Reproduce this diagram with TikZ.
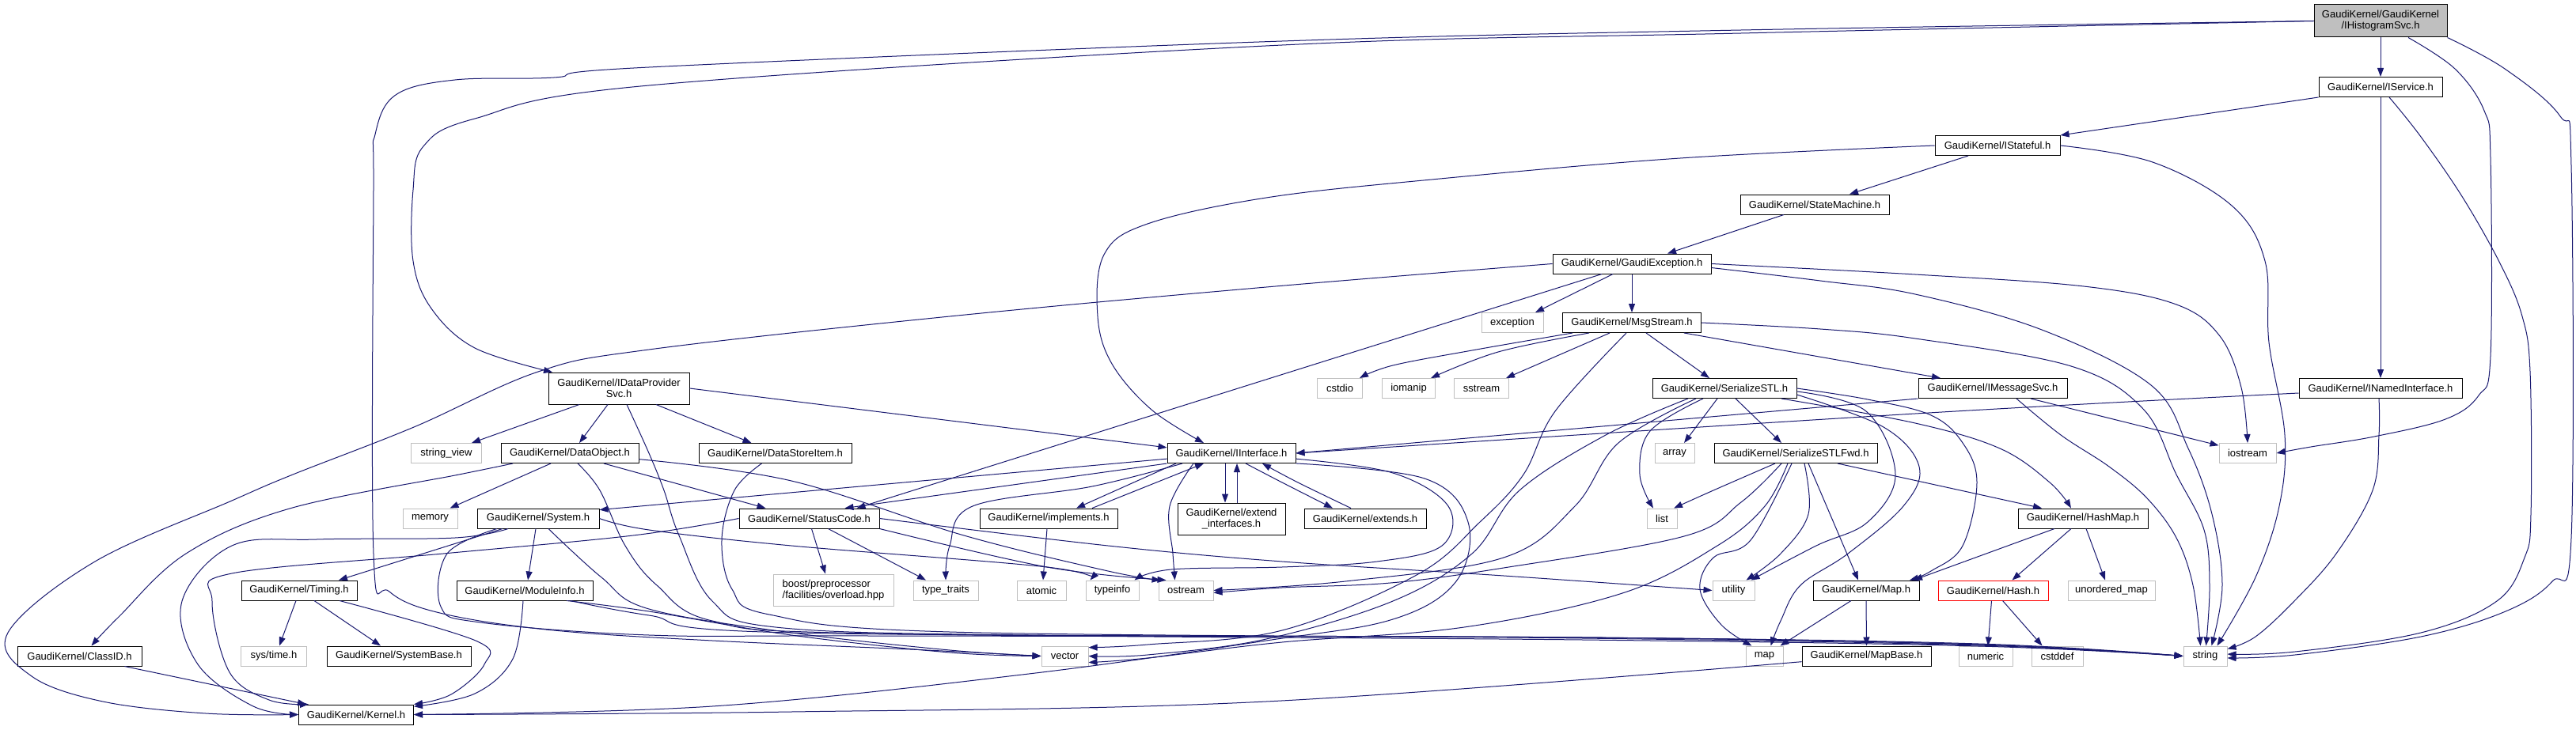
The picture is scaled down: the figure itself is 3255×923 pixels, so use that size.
\documentclass[tikz,border=0pt]{standalone}
\usepackage{fontspec}
\newfontfamily\dxfont{Liberation Sans}
\usetikzlibrary{arrows.meta}
\definecolor{edgec}{HTML}{191970}
\definecolor{extgray}{HTML}{BFBFBF}
\definecolor{hdrfill}{HTML}{BFBFBF}
\definecolor{trunc}{HTML}{FF0000}
\begin{document}
\begin{tikzpicture}[x=1pt,y=-1pt,
 hb/.style={draw=black, fill=white, line width=1pt, inner sep=0pt, minimum height=25pt, font=\dxfont\fontsize{13}{14}\selectfont, align=center},
 xb/.style={hb, draw=extgray},
 e/.style={draw=edgec, line width=1pt, -{Triangle[length=11pt,width=8pt]}},
 sm/.style={smooth, tension=0.6}]
\fill[white] (0,0) rectangle (3255,923);
\useasboundingbox (0,0) rectangle (3255,923);
% ---------- nodes
\node[hb, fill=hdrfill, minimum width=168pt, minimum height=41pt] (ihist) at (3008,26.5) {GaudiKernel/GaudiKernel\\/IHistogramSvc.h};
\node[hb, minimum width=156pt] (isvc) at (3008,110) {GaudiKernel/IService.h};
\node[hb, minimum width=158pt] (istate) at (2524,184) {GaudiKernel/IStateful.h};
\node[hb, minimum width=188pt] (smach) at (2293,258.5) {GaudiKernel/StateMachine.h};
\node[hb, minimum width=200pt] (gexc) at (2062,333.5) {GaudiKernel/GaudiException.h};
\node[xb, minimum width=78pt] (exc) at (1911,408) {exception};
\node[hb, minimum width=175pt] (msg) at (2062,408) {GaudiKernel/MsgStream.h};
\node[hb, minimum width=178pt, minimum height=40pt] (idp) at (782,491) {GaudiKernel/IDataProvider\\Svc.h};
\node[xb, minimum width=57pt] (cstdio) at (1693,491) {cstdio};
\node[xb, minimum width=67pt] (iomanip) at (1780,491) {iomanip};
\node[xb, minimum width=69pt] (sstream) at (1872,491) {sstream};
\node[hb, minimum width=182pt] (sstl) at (2179,491) {GaudiKernel/SerializeSTL.h};
\node[hb, minimum width=188pt] (imsg) at (2518,491) {GaudiKernel/IMessageSvc.h};
\node[hb, minimum width=206pt] (inamed) at (3008,491) {GaudiKernel/INamedInterface.h};
\node[xb, minimum width=89pt] (strview) at (564,573) {string\_view};
\node[hb, minimum width=174pt] (dobj) at (720,573) {GaudiKernel/DataObject.h};
\node[hb, minimum width=193pt] (dsi) at (979.5,573) {GaudiKernel/DataStoreItem.h};
\node[hb, minimum width=162pt] (iint) at (1556,573) {GaudiKernel/IInterface.h};
\node[xb, minimum width=50pt] (array) at (2116,573) {array};
\node[hb, minimum width=206pt] (sstlf) at (2269,573) {GaudiKernel/SerializeSTLFwd.h};
\node[xb, minimum width=72pt] (iostream) at (2840,573) {iostream};
\node[xb, minimum width=69pt] (memory) at (543.5,655.5) {memory};
\node[hb, minimum width=154pt] (system) at (680,655.5) {GaudiKernel/System.h};
\node[hb, minimum width=177pt] (sc) at (1022.5,655.5) {GaudiKernel/StatusCode.h};
\node[hb, minimum width=174pt] (impl) at (1325,655.5) {GaudiKernel/implements.h};
\node[hb, minimum width=136pt, minimum height=40pt] (extif) at (1556,656) {GaudiKernel/extend\\\_interfaces.h};
\node[hb, minimum width=154pt] (extends) at (1725,655.5) {GaudiKernel/extends.h};
\node[xb, minimum width=38pt] (list) at (2100,655.5) {list};
\node[hb, minimum width=164pt] (hashmap) at (2632,655.5) {GaudiKernel/HashMap.h};
\node[hb, minimum width=146pt] (timing) at (378,746.5) {GaudiKernel/Timing.h};
\node[hb, minimum width=172pt] (modinfo) at (663,746.5) {GaudiKernel/ModuleInfo.h};
\node[xb, minimum width=152pt, minimum height=40pt, align=left] (boost) at (1053,746) {boost/preprocessor\\/facilities/overload.hpp};
\node[xb, minimum width=82pt] (ttraits) at (1195,746.5) {type\_traits};
\node[xb, minimum width=62pt] (atomic) at (1316,746.5) {atomic};
\node[xb, minimum width=67pt] (typeinfo) at (1405.5,746.5) {typeinfo};
\node[xb, minimum width=69pt] (ostream) at (1498.5,746.5) {ostream};
\node[xb, minimum width=53pt] (utility) at (2190.5,746.5) {utility};
\node[hb, minimum width=134pt] (maph) at (2358,746.5) {GaudiKernel/Map.h};
\node[hb, draw=trunc, minimum width=139pt] (hash) at (2518.5,746.5) {GaudiKernel/Hash.h};
\node[xb, minimum width=110pt] (umap) at (2668,746.5) {unordered\_map};
\node[hb, minimum width=157pt] (classid) at (100.5,829.5) {GaudiKernel/ClassID.h};
\node[xb, minimum width=83pt] (systime) at (346,829.5) {sys/time.h};
\node[hb, minimum width=182pt] (sysbase) at (504,829.5) {GaudiKernel/SystemBase.h};
\node[xb, minimum width=59pt] (vector) at (1345.5,829.5) {vector};
\node[xb, minimum width=47pt] (mapstd) at (2229.5,829.5) {map};
\node[hb, minimum width=163pt] (mapbase) at (2358.5,829.5) {GaudiKernel/MapBase.h};
\node[xb, minimum width=68pt] (numeric) at (2509,829.5) {numeric};
\node[xb, minimum width=65pt] (cstddef) at (2599.5,829.5) {cstddef};
\node[xb, minimum width=55pt] (string) at (2786.5,829.5) {string};
\node[hb, minimum width=145pt] (kernel) at (450,903.5) {GaudiKernel/Kernel.h};
% ---------- edges: IHistogramSvc
\draw[e] (ihist.south) -- (isvc.north);
\draw[e] plot[sm] coordinates {(ihist.west) (2200,42) (1620,57) (820,108) (600,150) (535,185) (522,240) (522,330) (545,390) (600,440) ([xshift=-84]idp.north)};
\draw[e] plot[sm] coordinates {(ihist.west) (2200,38) (1620,52) (820,85) (700,98) (575,101) (500,120) (474,170) (472,240) (472,700) (492,748) (560,776) (700,797) (900,810) (1150,821) (vector.west)};
\draw[e] plot[sm] coordinates {([xshift=35]ihist.south) (3102,87) (3139,140) (3147,200) (3147,450) (3132,500) (3090,530) (3000,552) (2920,565) (iostream.east)};
\draw[e] plot[sm] coordinates {(ihist.south east) (3165,87) (3235,147) (3249,210) (3249,680) (3225,735) (3166,773) (3059,805) (2900,828) (string.-5)};
% IService
\draw[e] (isvc.south west) -- (istate.north east);
\draw[e] (isvc.south) -- (inamed.north);
\draw[e] plot[sm] coordinates {([xshift=11]isvc.south) (3059,173) (3112,250) (3160,335) (3187,400) (3197,470) (3198,650) (3190,705) (3155,760) (3059,800) (2900,824) (string.5)};
% IStateful
\draw[e] ([xshift=-37]istate.south) -- ([xshift=44]smach.north);
\draw[e] plot[sm] coordinates {(istate.west) (2123,200) (1809,227) (1600,250) (1450,283) (1395,322) (1387,400) (1405,460) (1455,518) ([xshift=-35]iint.north)};
\draw[e] plot[sm] coordinates {(istate.east) (2720,205) (2820,260) (2862,330) (2867,433) (2887,550) (2880,640) (2850,730) ([xshift=15]string.north)};
% StateMachine
\draw[e] ([xshift=-39]smach.south) -- ([xshift=45]gexc.north);
% GaudiException
\draw[e] plot[sm] coordinates {(gexc.west) (1600,363) (1200,400) (820,442) (680,470) (523,540) (370,600) (293,633) (120,710) (10,800) (40,855) (130,887) (260,902) (kernel.west)};
\draw[e] ([xshift=-24]gexc.south) -- ([xshift=29]exc.north);
\draw[e] (gexc.south) -- (msg.north);
\draw[e] ([xshift=-38]gexc.south) -- ([xshift=60]sc.north);
\draw[e] plot[sm] coordinates {(gexc.east) (2420,347) (2633,362) (2750,385) (2805,425) (2832,490) (iostream.north)};
\draw[e] plot[sm] coordinates {([yshift=-5]gexc.east) (2300,355) (2420,372) (2580,417) (2718,487) (2765,567) (2795,650) (2808,740) ([xshift=8]string.north)};
% MsgStream
\draw[e] plot[sm] coordinates {([xshift=-75]msg.south) (1860,443) (1760,462) ([xshift=25]cstdio.north)};
\draw[e] plot[sm] coordinates {([xshift=-54]msg.south) (1893,445) ([xshift=28]iomanip.north)};
\draw[e] ([xshift=-28]msg.south) -- ([xshift=31]sstream.north);
\draw[e] ([xshift=18]msg.south) -- ([xshift=-19]sstl.north);
\draw[e] ([xshift=66]msg.south) -- ([xshift=-66]imsg.north);
\draw[e] plot[sm] coordinates {(msg.east) (2300,416) (2420,428) (2617,463) (2708,517) (2750,600) (2785,670) (2792,740) ([xshift=1]string.north)};
\draw[e] plot[sm] coordinates {([xshift=-7]msg.south) (1965,520) (1925,600) (1870,660) (1790,727) (1620,797) (1450,815) (vector.20)};
% SerializeSTL
\draw[e] ([xshift=-9]sstl.south) -- ([xshift=12]array.north);
\draw[e] ([xshift=14]sstl.south) -- ([xshift=-18]sstlf.north);
\draw[e] plot[sm] coordinates {([xshift=-27]sstl.south) (2085,545) (2072,600) ([xshift=-11]list.north)};
\draw[e] plot[sm] coordinates {([xshift=72]sstl.south) (2420,535) (2527,567) (2590,610) ([xshift=-15]hashmap.north)};
\draw[e] plot[sm] coordinates {(sstl.east) (2360,505) (2440,525) (2480,560) (2498,610) (2480,690) (2440,722) ([xshift=55]maph.north)};
\draw[e] plot[sm] coordinates {([yshift=-4]sstl.east) (2358,520) (2395,600) (2360,660) (2295,690) ([xshift=22]utility.north)};
\draw[e] plot[sm] coordinates {([yshift=-8]sstl.east) (2380,540) (2425,590) (2405,640) (2335,700) (2275,740) (2250,785) ([xshift=8]mapstd.north)};
\draw[e] plot[sm] coordinates {([xshift=-46]sstl.south) (2029,550) (1920,620) (1860,700) (1760,760) (1600,808) (1450,828) (vector.east)};
\draw[e] plot[sm] coordinates {([xshift=-36]sstl.south) (2045,560) (1990,640) (1900,705) (1700,735) (ostream.east)};
% SerializeSTLFwd
\draw[e] plot[sm] coordinates {([xshift=-26]sstlf.south) (2165,620) ([xshift=15]list.north)};
\draw[e] plot[sm] coordinates {([xshift=-18]sstlf.south) (2200,635) (2128,678) (1900,718) (1757,737) (1620,743) ([yshift=-3]ostream.east)};
\draw[e] plot[sm] coordinates {([xshift=-10]sstlf.south) (2230,640) (2170,690) (2050,750) (1850,793) (1620,812) (1450,832) (vector.-15)};
\draw[e] plot[sm] coordinates {([xshift=-5]sstlf.south) (2212,683) (2165,705) (2148,745) (2175,790) ([xshift=-16]mapstd.north)};
\draw[e] plot[sm] coordinates {([xshift=11]sstlf.south) (2285,650) (2250,700) ([xshift=16]utility.north)};
\draw[e] ([xshift=16]sstlf.south) -- ([xshift=-10]maph.north);
\draw[e] ([xshift=53]sstlf.south) -- ([xshift=-52]hashmap.north);
% IMessageSvc
\draw[e] (imsg.south west) -- (iint.east);
\draw[e] plot[sm] coordinates {([xshift=30]imsg.south) (2604,550) (2665,590) (2713,630) (2750,680) (2771,740) ([xshift=-6]string.north)};
\draw[e] ([xshift=48]imsg.south) -- (iostream.165);
% INamedInterface
\draw[e] plot[sm] coordinates {([yshift=-6]inamed.west) (2420,523) (iint.east)};
\draw[e] plot[sm] coordinates {([xshift=-2]inamed.south) (3006,550) (2998,620) (2952,700) (2899,760) (2850,805) (string.18)};
% IDataProviderSvc
\draw[e] ([xshift=-50]idp.south) -- ([xshift=32]strview.north);
\draw[e] ([xshift=-14]idp.south) -- ([xshift=12]dobj.north);
\draw[e] ([xshift=47]idp.south) -- ([xshift=-30]dsi.north);
\draw[e] (idp.east) -- (iint.175);
\draw[e] plot[sm] coordinates {([xshift=10]idp.south) (820,573) (839,620) (858,677) (900,760) (980,793) (1300,803) (2000,806) (2500,815) (string.west)};
% DataObject
\draw[e] plot[sm] coordinates {([xshift=-72]dobj.south) (580,600) (366,643) (235,700) (150,780) ([xshift=15]classid.north)};
\draw[e] ([xshift=-24]dobj.south) -- ([xshift=25]memory.north);
\draw[e] ([xshift=43]dobj.south) -- ([xshift=-55]sc.north);
\draw[e] plot[sm] coordinates {(dobj.-5) (1000,608) (1218,677) (1400,722) ([xshift=-32]ostream.north)};
\draw[e] plot[sm] coordinates {([xshift=10]dobj.south) (758,620) (790,690) (830,740) (900,785) (1100,801) (2000,809) (2500,817) (string.west)};
% DataStoreItem
\draw[e] plot[sm] coordinates {([xshift=-17]dsi.south) (928,620) (912,683) (925,745) (972,777) (1200,799) (2000,807) (2500,816) (string.west)};
% IInterface
\draw[e] (iint.-175) -- (system.8);
\draw[e] (iint.south west) -- ([xshift=45]sc.north);
\draw[e] ([xshift=-70]iint.south) -- ([xshift=35]impl.north);
\draw[e] ([xshift=55]impl.north) -- ([xshift=-35]iint.south);
\draw[e] ([xshift=-8]iint.south) -- ([xshift=-8]extif.north);
\draw[e] ([xshift=7]extif.north) -- ([xshift=7]iint.south);
\draw[e] plot[sm] coordinates {([xshift=18]iint.south) (1620,610) ([xshift=-41]extends.north)};
\draw[e] plot[sm] coordinates {([xshift=-18]extends.north) (1640,610) ([xshift=39]iint.south)};
\draw[e] plot[sm] coordinates {([xshift=-62]iint.south) (1380,615) (1229,640) (1200,690) (ttraits.north)};
\draw[e] plot[sm] coordinates {([xshift=-48]iint.south) (1478,640) (1482,700) ([xshift=-14]ostream.north)};
\draw[e] plot[sm] coordinates {(iint.-5) (1760,598) (1830,640) (1822,690) (1740,710) (1620,717) (1480,720) ([xshift=28]typeinfo.north)};
\draw[e] plot[sm] coordinates {(iint.-9) (1800,605) (1855,660) (1840,735) (1760,783) (1600,810) (1300,852) (900,893) (kernel.east)};
% StatusCode
\draw[e] ([xshift=3]sc.south) -- ([xshift=-10]boost.north);
\draw[e] ([xshift=24]sc.south) -- ([xshift=-25]ttraits.north);
\draw[e] plot[sm] coordinates {(sc.south east) (1323,717) ([xshift=-25]ostream.north)};
\draw[e] plot[sm] coordinates {(sc.east) (1400,690) (1620,710) (1900,728) (utility.west)};
\draw[e] plot[sm] coordinates {(sc.west) (800,677) (560,700) (293,725) (268,760) (290,850) (340,885) ([xshift=-60]kernel.north)};
% System
\draw[e] ([xshift=-45]system.south) -- ([xshift=50]timing.north);
\draw[e] ([xshift=-3]system.south) -- ([xshift=4]modinfo.north);
\draw[e] plot[sm] coordinates {([xshift=-38]system.south) (575,680) (400,682) (293,690) (230,760) (250,840) (320,893) (kernel.west)};
\draw[e] plot[sm] coordinates {([xshift=-52]system.south) (565,700) (557,767) (607,787) (820,803) (1100,804) (2000,806) (2500,815) (string.west)};
\draw[e] plot[sm] coordinates {([xshift=13]system.south) (760,730) (820,770) (1000,800) (1200,822) (vector.west)};
\draw[e] plot[sm] coordinates {(system.east) (820,670) (1000,690) (1323,717) ([xshift=-28]typeinfo.north)};
% Timing
\draw[e] ([xshift=-4]timing.south) -- ([xshift=7]systime.north);
\draw[e] ([xshift=19]timing.south) -- ([xshift=-23]sysbase.north);
\draw[e] plot[sm] coordinates {([xshift=51]timing.south) (601,810) (612,840) (570,878) (kernel.north east)};
% ModuleInfo
\draw[e] plot[sm] coordinates {([xshift=-2]modinfo.south) (648,833) (600,877) (kernel.8)};
\draw[e] plot[sm] coordinates {([xshift=53]modinfo.south) (820,773) (1000,803) (1200,825) (vector.west)};
\draw[e] plot[sm] coordinates {([xshift=58]modinfo.south) (820,778) (1000,800) (2000,806) (2500,814) (string.west)};
% implements
\draw[e] ([xshift=-2]impl.south) -- ([xshift=2]atomic.north);
% HashMap
\draw[e] ([xshift=-15]hashmap.south) -- ([xshift=24]hash.north);
\draw[e] ([xshift=4]hashmap.south) -- ([xshift=-8]umap.north);
\draw[e] ([xshift=-36]hashmap.south) -- ([xshift=60]maph.north);
% Hash
\draw[e] ([xshift=-2]hash.south) -- ([xshift=3]numeric.north);
\draw[e] ([xshift=12]hash.south) -- ([xshift=-19]cstddef.north);
% Map
\draw[e] ([xshift=-19]maph.south) -- ([xshift=20]mapstd.north);
\draw[e] (maph.south) -- (mapbase.north);
% MapBase
\draw[e] plot[sm] coordinates {(mapbase.-175) (1600,887) (1000,900) (kernel.east)};
% ClassID
\draw[e] ([xshift=57]classid.south) -- ([xshift=-63]kernel.north);
\end{tikzpicture}
\end{document}
